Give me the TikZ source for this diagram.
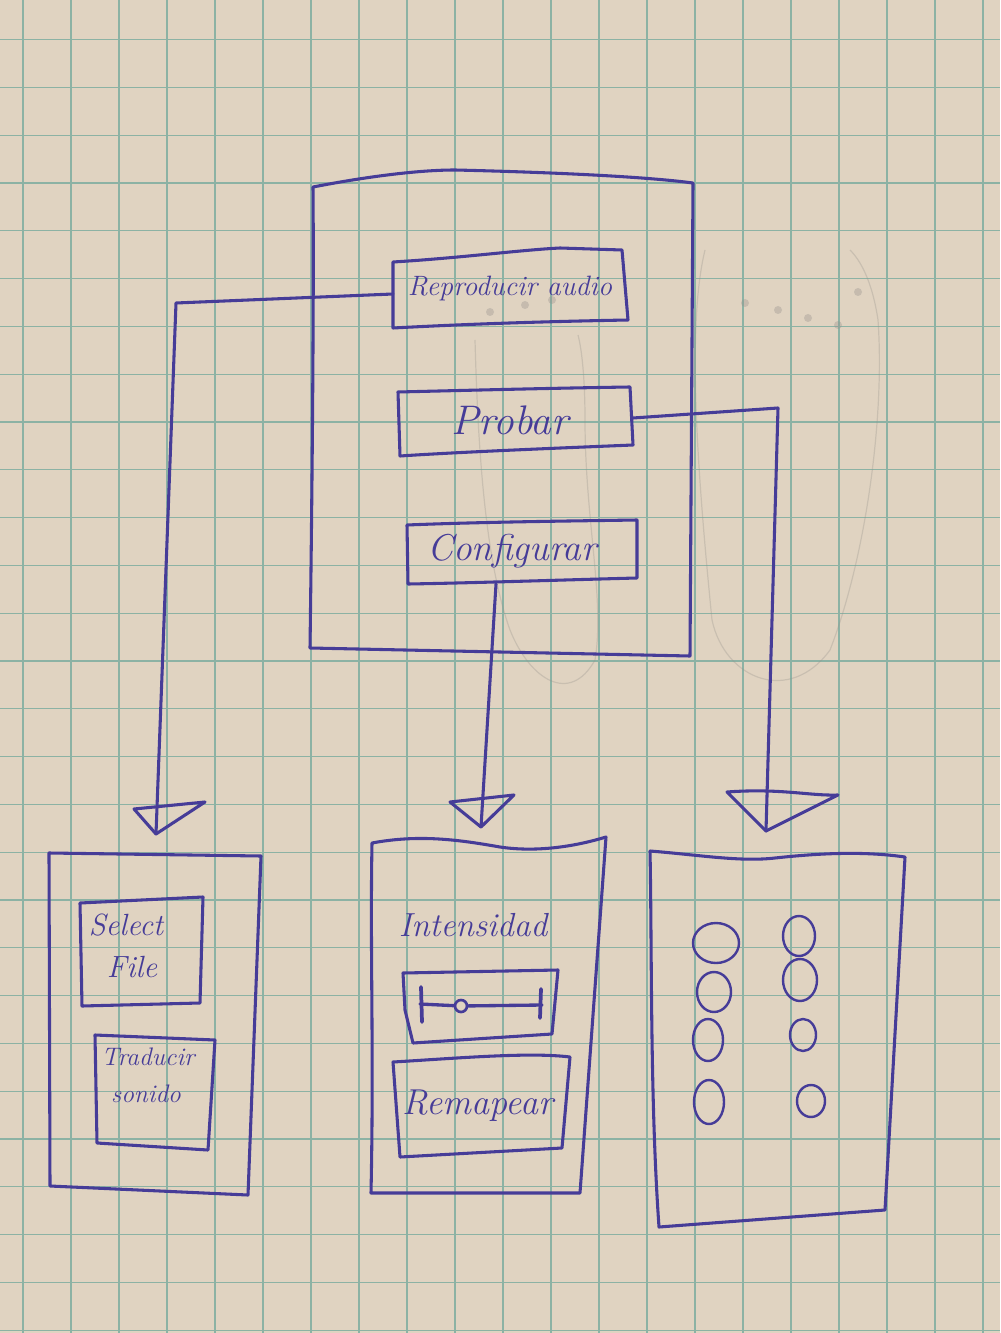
\documentclass[tikz,border=0pt]{standalone}
\usepackage{fontspec}
\usetikzlibrary{calc}
\definecolor{paper}{RGB}{224,211,193}
\definecolor{gridline}{RGB}{140,178,164}
\definecolor{ink}{RGB}{70,60,152}
\definecolor{pencil}{RGB}{150,145,140}
\begin{document}
\begin{tikzpicture}[x=0.75pt,y=-0.75pt,
  pen/.style={draw=ink,line width=2.3pt,line cap=round,line join=round},
  thinpen/.style={pen,line width=1.8pt},
  word/.style={text=ink,inner sep=0pt,font=\itshape},
  sketch/.style={draw=pencil,line width=0.9pt,opacity=0.3},
  gridrule/.style={draw=gridline,line width=0.85pt}]
% paper and squared ruling
\fill[paper] (0,0) rectangle (1000,1333);
\useasboundingbox (0,0) rectangle (1000,1333);
\foreach \i in {-4,...,16} \draw[gridrule] ({215+48*\i},0) -- ({215+48*\i},1333);
\foreach \j in {-3,...,24} \draw[gridrule] (0,{183+47.8*\j}) -- (1000,{183+47.8*\j});

% faint pencil feet behind the ink
\draw[sketch] (475,340) .. controls (478,450) and (485,560) .. (510,630)
  .. controls (530,680) and (570,705) .. (595,660)
  .. controls (605,600) and (585,520) .. (585,420) .. controls (585,380) and (582,350) .. (578,335);
\draw[sketch] (705,250) .. controls (688,320) and (695,450) .. (712,620)
  .. controls (725,680) and (790,705) .. (830,650)
  .. controls (865,560) and (885,420) .. (878,320) .. controls (872,280) and (860,260) .. (850,250);
\foreach \p in {(745,303),(778,310),(808,318),(838,325),(858,292)} \fill[pencil,opacity=0.35] \p circle (4);
\foreach \p in {(490,312),(525,305),(552,300)} \fill[pencil,opacity=0.35] \p circle (4);

% ---------- main screen ----------
\coordinate (mtl) at (313,187);
\coordinate (mtr) at (693,183);
\coordinate (mbr) at (690,656);
\coordinate (mbl) at (310,648);
\draw[pen] (mtl) .. controls (370,176) and (420,170) .. (455,170)
  .. controls (540,172) and (640,176) .. (mtr) -- (mbr) -- (mbl)
  .. controls (312,500) and (314,300) .. (mtl);

% Reproducir audio
\coordinate (rtl) at (393,262);
\coordinate (rtr) at (622,250);
\coordinate (rbr) at (628,320);
\coordinate (rbl) at (393,328);
\draw[pen] (rtl) .. controls (460,258) and (520,250) .. (560,248) -- (rtr) -- (rbr)
  .. controls (520,322) and (450,325) .. (rbl) -- cycle;
\node[word,font=\itshape\fontsize{21}{21}\selectfont] (trep) at (510,289) {Reproducir audio};

% Probar
\coordinate (ptl) at (398,392);
\coordinate (ptr) at (630,387);
\coordinate (pbr) at (633,445);
\coordinate (pbl) at (400,456);
\draw[pen] (ptl) .. controls (480,390) and (560,388) .. (ptr) -- (pbr)
  .. controls (560,448) and (460,452) .. (pbl) -- cycle;
\node[word,font=\itshape\fontsize{31}{31}\selectfont] (tpro) at (510,420) {Probar};

% Configurar
\coordinate (ctl) at (407,525);
\coordinate (ctr) at (637,520);
\coordinate (cbr) at (637,578);
\coordinate (cbl) at (408,584);
\draw[pen] (ctl) .. controls (480,522) and (570,521) .. (ctr) -- (cbr)
  .. controls (560,580) and (470,583) .. (cbl) -- cycle;
\node[word,font=\itshape\fontsize{28}{28}\selectfont] (tcon) at (512,551) {Configurar};

% ---------- connectors ----------
\coordinate (rl) at (393,294);
\coordinate (lbend) at (176,303);
\coordinate (ltip) at (156,834);
\draw[pen] (rl) -- (lbend) -- (ltip);
\coordinate (cb) at (496,584);
\coordinate (mtip) at (481,827);
\draw[pen] (cb) -- (mtip);
\coordinate (pr) at (633,418);
\coordinate (rbend) at (778,408);
\coordinate (rtip) at (766,831);
\draw[pen] (pr) -- (rbend) -- (rtip);

% open triangular heads
\draw[pen] (134,809) -- (205,802) -- (ltip) -- cycle;
\draw[pen] (450,802) -- (514,795) -- (mtip) -- cycle;
\draw[pen] (727,792) .. controls (780,788) and (810,796) .. (838,795) -- (rtip) -- cycle;

% ---------- left screen ----------
\coordinate (atl) at (49,853);
\coordinate (atr) at (261,856);
\coordinate (abr) at (248,1195);
\coordinate (abl) at (50,1186);
\draw[pen] (atl) -- (atr) -- (abr) -- (abl) -- cycle;
\draw[pen] (80,903) -- (203,897) -- (200,1003) -- (82,1006) -- cycle;
\node[word,font=\itshape\fontsize{23}{23}\selectfont] (tsel) at (126,925) {Select};
\node[word,font=\itshape\fontsize{23}{23}\selectfont] (tfil) at (132,967) {File};
\draw[pen] (95,1035) -- (215,1040) -- (208,1150) -- (97,1143) -- cycle;
\node[word,font=\itshape\fontsize{19}{19}\selectfont] (ttra) at (148,1057) {Traducir};
\node[word,font=\itshape\fontsize{19}{19}\selectfont] (tson) at (146,1094) {sonido};

% ---------- middle screen ----------
\coordinate (btl) at (372,843);
\coordinate (btr) at (606,837);
\coordinate (bbr) at (580,1193);
\coordinate (bbl) at (371,1193);
\draw[pen] (btl) .. controls (420,834) and (460,840) .. (500,847)
  .. controls (540,853) and (580,845) .. (btr) -- (bbr) -- (bbl)
  .. controls (374,1050) and (370,950) .. (btl);
\node[word,font=\itshape\fontsize{25}{25}\selectfont] (tint) at (473,925) {Intensidad};
% slider
\draw[pen] (403,973) -- (558,970) -- (552,1034) -- (413,1043) -- (405,1010) -- cycle;
\coordinate (sl) at (420,1004);
\coordinate (sr) at (542,1005);
\node[circle,draw=ink,line width=2pt,inner sep=0pt,minimum size=9pt,fill=paper] (knob) at (461,1006) {};
\draw[pen,line width=2.5pt] (sl) -- (knob) -- (sr);
\draw[pen,line width=2.8pt] (421,987) -- (422,1022);
\draw[pen,line width=2.8pt] (541,989) -- (540,1018);
% Remapear
\draw[pen] (393,1062) .. controls (460,1058) and (530,1052) .. (570,1057) -- (562,1148)
  -- (400,1157) -- cycle;
\node[word,font=\itshape\fontsize{27}{27}\selectfont] (trem) at (478,1106) {Remapear};

% ---------- right screen ----------
\coordinate (dtl) at (650,851);
\coordinate (dtr) at (905,857);
\coordinate (dbr) at (885,1210);
\coordinate (dbl) at (659,1227);
\draw[pen] (dtl) .. controls (700,855) and (740,862) .. (775,858)
  .. controls (830,852) and (870,852) .. (dtr) -- (dbr) -- (dbl)
  .. controls (650,1100) and (652,950) .. (dtl);
\draw[thinpen] (716,943) ellipse (23 and 20);
\draw[thinpen] (714,992) ellipse (17 and 20);
\draw[thinpen] (708,1040) ellipse (15 and 21);
\draw[thinpen] (709,1102) ellipse (15 and 22);
\draw[thinpen] (799,936) ellipse (16 and 20);
\draw[thinpen] (800,980) ellipse (17 and 21);
\draw[thinpen] (803,1035) ellipse (13 and 16);
\draw[thinpen] (811,1101) ellipse (14 and 16);
\end{tikzpicture}
\end{document}
